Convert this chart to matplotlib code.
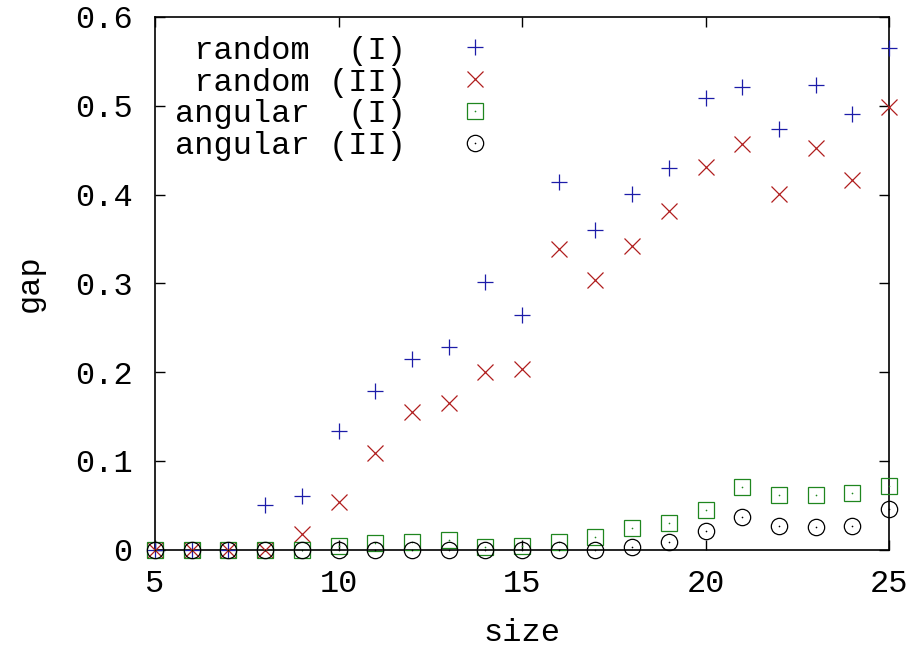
import matplotlib
matplotlib.use("Agg")
import matplotlib.pyplot as plt
import numpy as np
from matplotlib.ticker import FuncFormatter, MultipleLocator
from matplotlib.legend_handler import HandlerTuple

sizes = list(range(5, 26))
random_I = [0, 0, 0, 0.050, 0.060, 0.134, 0.179, 0.215, 0.228, 0.301, 0.264,
            0.414, 0.360, 0.401, 0.430, 0.509, 0.521, 0.474, 0.523, 0.491, 0.565]
random_II = [0, 0, 0, 0, 0.0175, 0.053, 0.109, 0.155, 0.165, 0.200, 0.203,
             0.339, 0.304, 0.342, 0.381, 0.431, 0.457, 0.401, 0.452, 0.416, 0.499]
angular_I = [0, 0, 0, 0, 0, 0.004, 0.007, 0.009, 0.011, 0.003, 0.004,
             0.009, 0.014, 0.024, 0.030, 0.045, 0.070, 0.061, 0.061, 0.064, 0.072]
angular_II = [0, 0, 0, 0, 0, 0, 0, 0, 0, 0, 0,
              0, 0, 0.0025, 0.0085, 0.021, 0.037, 0.027, 0.025, 0.027, 0.046]

labels = [" random  (I)", " random (II)", "angular  (I)", "angular (II)"]

FONT = "Liberation Mono"
FS = 23
plt.rcParams['font.family'] = [FONT, 'DejaVu Sans Mono']

fig = plt.figure(figsize=(9.21, 6.51), dpi=100)
ax = fig.add_axes([155/921, 1-549.5/651, (889-155)/921, (549.5-17)/651])

blue = '#1c1ca8'
red = '#b01e1e'
green = '#1f861f'
black = '#000000'
ms = 12
mew = 0.9

h1, = ax.plot(sizes, random_I, linestyle='none', marker='+', ms=ms, mew=mew,
              color=blue, clip_on=False, zorder=3)
h2, = ax.plot(sizes, random_II, linestyle='none', marker='x', ms=ms*0.95, mew=mew,
              color=red, clip_on=False, zorder=3)
h3, = ax.plot(sizes, angular_I, linestyle='none', marker='s', ms=ms*0.95, mew=mew,
              mfc='none', mec=green, clip_on=False, zorder=3)
h3d, = ax.plot(sizes, angular_I, linestyle='none', marker='o', ms=1.2, mew=0,
               color=green, clip_on=False, zorder=3)
h4, = ax.plot(sizes, angular_II, linestyle='none', marker='o', ms=ms*0.98, mew=mew,
              mfc='none', mec=black, clip_on=False, zorder=4)
h4d, = ax.plot(sizes, angular_II, linestyle='none', marker='o', ms=1.2, mew=0,
               color=black, clip_on=False, zorder=4)

ax.set_xlim(5, 25)
ax.set_ylim(0, 0.6)
ax.xaxis.set_major_locator(MultipleLocator(5))
ax.yaxis.set_major_locator(MultipleLocator(0.1))
ax.yaxis.set_major_formatter(FuncFormatter(lambda v, p: f"{v:g}"))

ax.tick_params(direction='in', length=7, width=1.0, top=True, right=True,
               labelsize=FS, color='black')
ax.tick_params(axis='y', pad=16)
ax.tick_params(axis='x', pad=14)
for s in ax.spines.values():
    s.set_linewidth(1.2)

ax.set_xlabel("size", fontsize=FS, labelpad=14)
ax.set_ylabel("gap", fontsize=FS, labelpad=22)

leg = ax.legend([h1, h2, (h3, h3d), (h4, h4d)], labels,
                handler_map={tuple: HandlerTuple(ndivide=1)},
                loc='upper left', bbox_to_anchor=(0.006, 0.995), borderaxespad=0.3,
                frameon=False, markerfirst=False, prop={'family': FONT, 'size': FS},
                handlelength=2.0, handletextpad=1.15, labelspacing=0.06,
                borderpad=0.2)

fig.savefig("out.png", dpi=100)
